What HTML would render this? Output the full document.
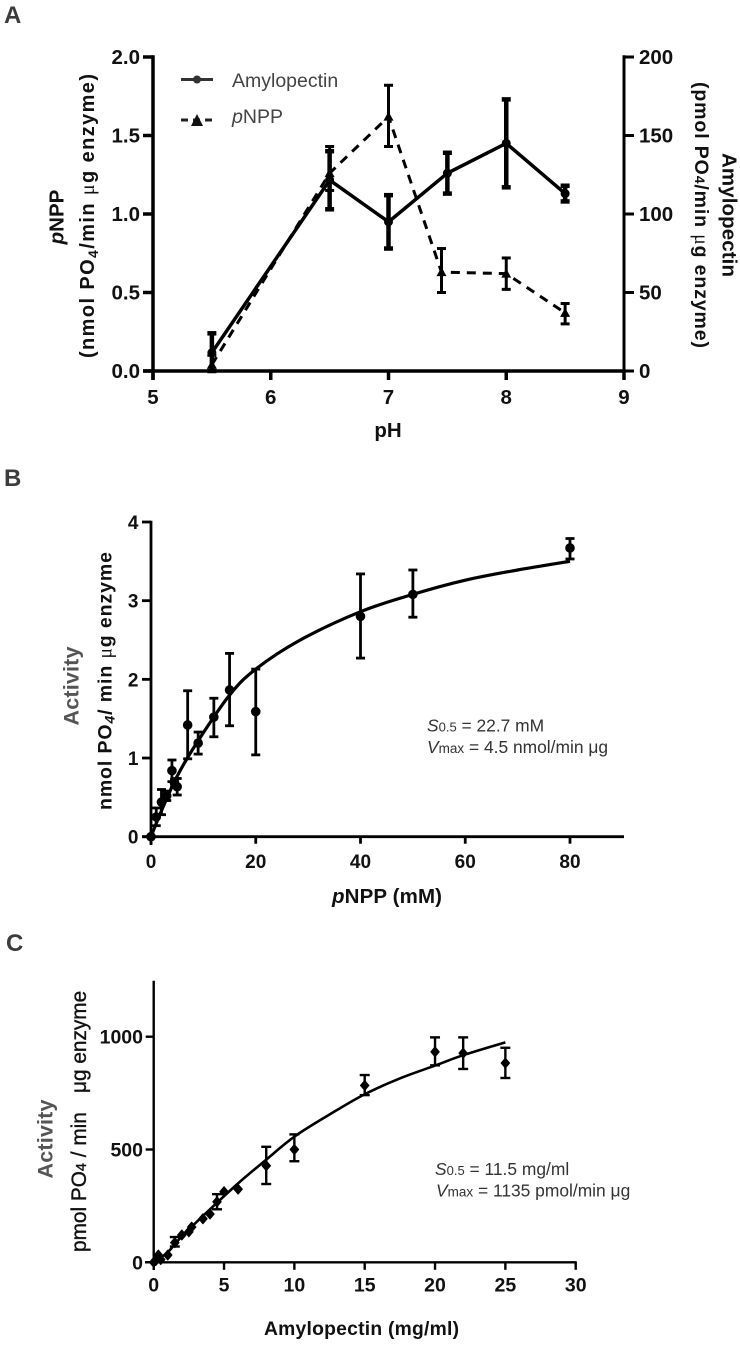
<!DOCTYPE html>
<html lang="en">
<head>
<meta charset="utf-8">
<title>Enzyme activity panels</title>
<style>
html,body{margin:0;padding:0;background:#fff;}
svg{display:block;}
text{font-family:"Liberation Sans",Arial,sans-serif;}
.tick{font-size:20.5px;font-weight:bold;fill:#111;}
#b .tick{font-size:19px;}
#c .tick{font-size:19.5px;}
.title{font-size:20.5px;font-weight:bold;fill:#111;}
.panel{font-size:24px;font-weight:bold;fill:#3c3c3c;}
.gray{font-size:21.5px;font-weight:bold;fill:#555;}
.note{font-size:17.4px;fill:#333;}
.legend{font-size:19.5px;fill:#444;}
.mu{font-family:"Liberation Serif",serif;font-weight:normal;}
</style>
</head>
<body>
<svg id="fig" xmlns="http://www.w3.org/2000/svg" width="740" height="1346" viewBox="0 0 740 1346">
  <rect width="740" height="1346" fill="#fff"/>

  <text class="panel" x="4" y="23">A</text>
  <g id="a"></g>
  <text class="title" transform="translate(63.5,217) rotate(-90)" text-anchor="middle"><tspan font-style="italic">p</tspan>NPP</text>
  <text class="title" style="font-size:20px" transform="translate(94,216) rotate(-90)" text-anchor="middle" textLength="284" lengthAdjust="spacing">(nmol PO<tspan font-size="14" dy="4">4</tspan><tspan dy="-4">/min </tspan><tspan class="mu">μ</tspan>g enzyme)</text>
  <text class="title" transform="translate(722.5,215) rotate(90)" text-anchor="middle" textLength="124" lengthAdjust="spacing">Amylopectin</text>
  <text class="title" style="font-size:19.5px" transform="translate(695,215) rotate(90)" text-anchor="middle" textLength="266" lengthAdjust="spacing">(pmol PO<tspan font-size="14">4</tspan>/min <tspan class="mu">μ</tspan>g enzyme)</text>
  <text class="title" x="388" y="437" text-anchor="middle">pH</text>

  <g>
    <line x1="181" y1="79.5" x2="213" y2="79.5" stroke="#333" stroke-width="3"/>
    <circle cx="197" cy="79.5" r="4" fill="#333"/>
    <text class="legend" x="232" y="87">Amylopectin</text>
    <line x1="181" y1="120" x2="213" y2="120" stroke="#222" stroke-width="3" stroke-dasharray="7 5"/>
    <polygon points="197,114 203,126 191,126" fill="#111"/>
    <text class="legend" x="232" y="123"><tspan font-style="italic">p</tspan>NPP</text>
  </g>

  <text class="panel" x="4" y="486">B</text>
  <g id="b"></g>
  <text class="gray" transform="translate(78.7,686) rotate(-90)" text-anchor="middle" textLength="79" lengthAdjust="spacing">Activity</text>
  <text class="title" style="font-size:19.5px" transform="translate(111.5,681) rotate(-90)" text-anchor="middle" textLength="258" lengthAdjust="spacing">nmol PO<tspan font-size="14" font-style="italic" dy="3">4</tspan><tspan dy="-3">/ min </tspan><tspan class="mu">μ</tspan>g enzyme</text>
  <text class="title" x="387" y="903" text-anchor="middle" textLength="110" lengthAdjust="spacing"><tspan font-style="italic">p</tspan>NPP (mM)</text>
  <text class="note" x="427" y="731.5"><tspan font-style="italic">S</tspan><tspan font-size="13">0.5</tspan> = 22.7 mM</text>
  <text class="note" x="427" y="753"><tspan font-style="italic">V</tspan><tspan font-size="13.5">max</tspan> = 4.5 nmol/min μg</text>

  <text class="panel" x="6" y="951">C</text>
  <g id="c"></g>
  <text class="gray" transform="translate(52.7,1139) rotate(-90)" text-anchor="middle" textLength="79" lengthAdjust="spacing">Activity</text>
  <text class="title" transform="translate(86,1252) rotate(-90)" style="font-size:20.8px;font-weight:normal;stroke:#111;stroke-width:.35">pmol PO<tspan font-size="14.5">4</tspan> / min</text>
  <text class="title" transform="translate(86,1093) rotate(-90)" style="font-size:20.8px;font-weight:normal;stroke:#111;stroke-width:.35">μg enzyme</text>
  <text class="title" style="font-size:19.3px" x="361.5" y="1335" text-anchor="middle" textLength="195" lengthAdjust="spacing">Amylopectin (mg/ml)</text>
  <text class="note" x="435" y="1175"><tspan font-style="italic">S</tspan><tspan font-size="13">0.5</tspan> = 11.5 mg/ml</text>
  <text class="note" x="436" y="1196.5"><tspan font-style="italic">V</tspan><tspan font-size="13.5">max</tspan> = 1135 pmol/min μg</text>
</svg>

<script>
/* Panel A data */
const aXTicks = [5, 6, 7, 8, 9];
const aLeftTicks = ["0.0", "0.5", "1.0", "1.5", "2.0"];
const aRightTicks = [0, 50, 100, 150, 200];
const amyPh = [5.5, 6.5, 7, 7.5, 8, 8.5];
const amyMean = [11.7, 121.6, 95, 126, 145, 113];
const amyUpper = [24, 140, 112, 139, 173, 118];
const amyLower = [0, 103, 78, 113, 117, 108];
const pnppPh = [5.5, 6.5, 7, 7.45, 8, 8.5];
const pnppMean = [0.04, 1.26, 1.62, 0.63, 0.62, 0.37];
const pnppUpper = [0.1, 1.43, 1.82, 0.78, 0.72, 0.43];
const pnppLower = [0, 1.15, 1.43, 0.5, 0.52, 0.3];

/* Panel B data */
const bXTicks = [0, 20, 40, 60, 80];
const bYTicks = [0, 1, 2, 3, 4];
const bConc = [0, 1, 2, 3, 4, 4.5, 5, 7, 9, 12, 15, 20, 40, 50, 80];
const bMean = [0, 0.25, 0.44, 0.52, 0.84, 0.68, 0.635, 1.42, 1.19, 1.52, 1.865, 1.59, 2.8, 3.08, 3.67];
const bUpper = [0, 0.365, 0.6, 0.58, 0.975, 0.73, 0.74, 1.855, 1.33, 1.76, 2.33, 2.13, 3.34, 3.39, 3.79];
const bLower = [0, 0.14, 0.28, 0.46, 0.7, 0.63, 0.53, 0.99, 1.05, 1.27, 1.41, 1.04, 2.27, 2.79, 3.53];
const bFitX = [0, 2, 5, 9, 15, 20, 28.5, 40, 50, 60, 70, 80];
const bFitY = [0, 0.33, 0.77, 1.22, 1.8, 2.13, 2.5, 2.86, 3.08, 3.26, 3.39, 3.5];

/* Panel C data */
const cXTicks = [0, 5, 10, 15, 20, 25, 30];
const cYTicks = [0, 500, 1000];
const cConc = [0, 0.15, 0.33, 0.5, 1, 1.5, 2, 2.5, 2.7, 3.5, 4, 4.5, 5, 6, 8, 10, 15, 20, 22, 25];
const cMean = [0, 8, 32, 12, 32, 87, 121, 135, 156, 193, 214, 268, 313, 324, 428, 500, 784, 933, 927, 883];
const cUpper = [0, 8, 32, 12, 32, 112, 121, 135, 156, 193, 214, 302, 313, 324, 512, 567, 830, 997, 997, 951];
const cLower = [0, 8, 32, 12, 32, 70, 121, 135, 156, 193, 214, 235, 313, 324, 347, 448, 741, 873, 857, 817];
const cFitX = [0, 1, 2, 4, 6, 8, 10, 12.5, 15, 17.5, 20, 22, 25];
const cFitY = [0, 45, 115, 235, 350, 455, 557, 655, 745, 815, 872, 918, 975];

const NS = "http://www.w3.org/2000/svg";
function scale(d0, d1, r0, r1) { return v => r0 + (v - d0) * (r1 - r0) / (d1 - d0); }
function add(parent, tag, attrs, txt) {
  const el = document.createElementNS(NS, tag);
  for (const k in attrs) el.setAttribute(k, attrs[k]);
  if (txt !== undefined) el.textContent = txt;
  parent.appendChild(el);
  return el;
}
function lineEl(parent, x1, y1, x2, y2, w, color) {
  return add(parent, "line", {x1: x1, y1: y1, x2: x2, y2: y2, stroke: color || "#000", "stroke-width": w});
}
function group(parent, name) {
  const g = add(parent, "g", {});
  
  
  return g;
}
function xAxis(parent, ticks, sx, y, x0, x1, w, tickLen, labelY, prefix) {
  const ax = lineEl(parent, x0, y, x1, y, w);
  
  
  ticks.forEach(t => {
    const tk = lineEl(parent, sx(t), y, sx(t), y + tickLen, w);
    
    
    const lb = add(parent, "text", {class: "tick", x: sx(t), y: labelY, "text-anchor": "middle"}, String(t));
    
    
  });
}
function yAxis(parent, ticks, sy, x, y0, y1, w, tickDir, labelX, anchor, prefix) {
  const ax = lineEl(parent, x, y0, x, y1, w);
  
  
  ticks.forEach(t => {
    const v = sy(parseFloat(t));
    const tk = lineEl(parent, x, v, x + tickDir, v, w);
    
    
    const lb = add(parent, "text", {class: "tick", x: labelX, y: v + 7, "text-anchor": anchor}, String(t));
    
    
  });
}
function errorBars(parent, xs, upper, lower, sx, sy, w, cap, name) {
  xs.forEach((x, i) => {
    if (upper[i] === lower[i]) return;
    const g = group(parent, name);
    const px = sx(x), t = sy(upper[i]), b = sy(lower[i]);
    lineEl(g, px, t, px, b, w);
    lineEl(g, px - cap, t, px + cap, t, w);
    lineEl(g, px - cap, b, px + cap, b, w);
  });
}
function linePath(parent, xs, ys, sx, sy, w, dash, name) {
  const pts = xs.map((x, i) => sx(x) + "," + sy(ys[i])).join(" ");
  const attrs = {points: pts, fill: "none", stroke: "#000", "stroke-width": w, "stroke-linejoin": "round"};
  if (dash) attrs["stroke-dasharray"] = dash;
  const el = add(parent, "polyline", attrs);
  
  
}
function smoothCurve(parent, xs, ys, sx, sy, w, name) {
  const P = xs.map((x, i) => [sx(x), sy(ys[i])]);
  let d = "M" + P[0][0] + "," + P[0][1];
  for (let i = 0; i < P.length - 1; i++) {
    const p0 = P[Math.max(i - 1, 0)], p1 = P[i], p2 = P[i + 1], p3 = P[Math.min(i + 2, P.length - 1)];
    d += " C" + (p1[0] + (p2[0] - p0[0]) / 6) + "," + (p1[1] + (p2[1] - p0[1]) / 6) + " " +
         (p2[0] - (p3[0] - p1[0]) / 6) + "," + (p2[1] - (p3[1] - p1[1]) / 6) + " " + p2[0] + "," + p2[1];
  }
  const el = add(parent, "path", {d: d, fill: "none", stroke: "#000", "stroke-width": w});
  
  
}
function circles(parent, xs, ys, sx, sy, r, name) {
  xs.forEach((x, i) => {
    const c = add(parent, "circle", {cx: sx(x), cy: sy(ys[i]), r: r, fill: "#000"});
    
    
  });
}
function triangles(parent, xs, ys, sx, sy, r, name) {
  xs.forEach((x, i) => {
    const px = sx(x), py = sy(ys[i]);
    const t = add(parent, "polygon", {points: `${px},${py - r} ${px + r},${py + r * 0.8} ${px - r},${py + r * 0.8}`, fill: "#000"});
    
    
  });
}
function diamonds(parent, xs, ys, sx, sy, r, name) {
  xs.forEach((x, i) => {
    const px = sx(x), py = sy(ys[i]);
    const d = add(parent, "polygon", {points: `${px},${py - r} ${px + r * 0.85},${py} ${px},${py + r} ${px - r * 0.85},${py}`, fill: "#000", stroke: "#000", "stroke-width": 1, "stroke-linejoin": "round"});
    
    
  });
}

/* Panel A */
(function () {
  const root = document.getElementById("a");
  const sx = scale(5, 9, 153, 624);
  const syL = scale(0, 2, 371, 57);
  const syR = scale(0, 200, 371, 57);
  const axes = group(root, "ph-chart-axes");
  xAxis(axes, aXTicks, sx, 371, 143, 625.5, 3.5, 9, 404, "ph");
  yAxis(axes, aLeftTicks, syL, 153, 55.3, 380, 3.5, -10, 140, "end", "left-y");
  yAxis(axes, aRightTicks, syR, 624, 55.3, 380, 3, 10, 639, "start", "right-y");
  const p = group(root, "pnpp-series");
  errorBars(p, pnppPh, pnppUpper, pnppLower, sx, syL, 3, 4.5, "pnpp-error-bar");
  linePath(p, pnppPh, pnppMean, sx, syL, 3, "9 7", "pnpp-line");
  triangles(p, pnppPh, pnppMean, sx, syL, 5, "pnpp-point");
  const m = group(root, "amylopectin-series");
  errorBars(m, amyPh, amyUpper, amyLower, sx, syR, 4.5, 4.5, "amylopectin-error-bar");
  linePath(m, amyPh, amyMean, sx, syR, 3.5, null, "amylopectin-line");
  circles(m, amyPh, amyMean, sx, syR, 4.5, "amylopectin-point");
})();

/* Panel B */
(function () {
  const root = document.getElementById("b");
  const sx = scale(0, 80, 151, 570);
  const sy = scale(0, 4, 836.7, 522);
  const axes = group(root, "pnpp-chart-axes");
  xAxis(axes, bXTicks, sx, 836.7, 142, 624, 2.8, 7, 868, "pnpp-x");
  yAxis(axes, bYTicks, sy, 151, 520.8, 845, 2.8, -9, 138.5, "end", "pnpp-y");
  const s = group(root, "pnpp-activity-series");
  errorBars(s, bConc, bUpper, bLower, sx, sy, 2.8, 4.5, "activity-error-bar");
  smoothCurve(s, bFitX, bFitY, sx, sy, 3.2, "activity-fit-curve");
  circles(s, bConc, bMean, sx, sy, 4.8, "activity-point");
})();

/* Panel C */
(function () {
  const root = document.getElementById("c");
  const sx = scale(0, 30, 153.7, 575.7);
  const sy = scale(0, 1000, 1262.3, 1036.7);
  const axes = group(root, "amylopectin-chart-axes");
  xAxis(axes, cXTicks, sx, 1262.3, 145, 576.7, 2.4, 7.5, 1291.5, "amylopectin-x");
  yAxis(axes, cYTicks, sy, 153.7, 980.7, 1270, 2.4, -8, 143, "end", "amylopectin-y");
  const s = group(root, "amylopectin-activity-series");
  errorBars(s, cConc, cUpper, cLower, sx, sy, 2.4, 5, "activity-error-bar");
  smoothCurve(s, cFitX, cFitY, sx, sy, 2.6, "activity-fit-curve");
  diamonds(s, cConc, cMean, sx, sy, 5, "activity-point");
})();
</script>
</body>
</html>
